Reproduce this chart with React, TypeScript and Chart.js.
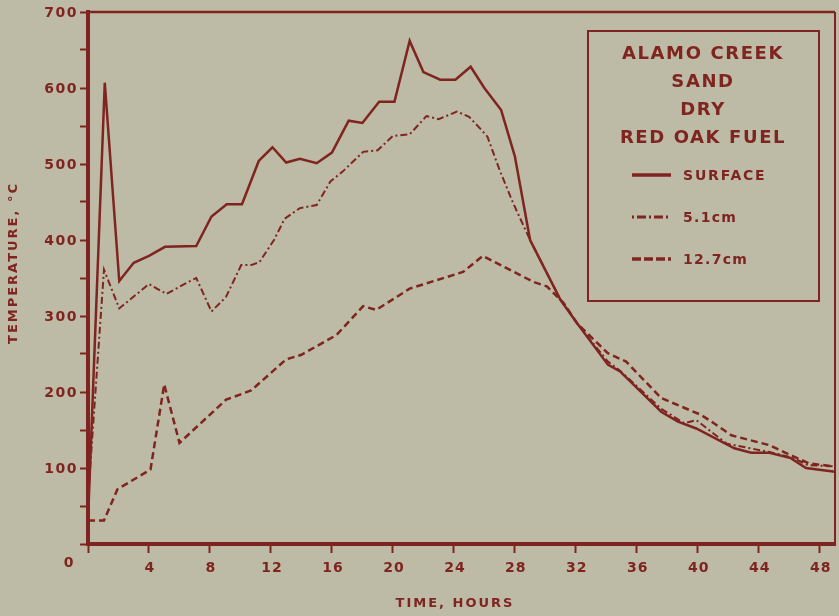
import React, { useEffect, useRef } from "react";
import { Chart, registerables } from "chart.js";

Chart.register(...registerables);

// ---- data (hours, °C) ----
const surfaceHours = [0, 1.1, 2.05, 3.0, 4.0, 5.05, 7.1, 8.1, 9.1, 10.1, 11.2, 12.1, 13.0, 13.9, 15.0, 16.0, 17.1, 18.0, 19.1, 20.1, 21.1, 22.0, 23.1, 24.1, 25.1, 26.0, 27.1, 28.0, 29.0, 31.0, 32.1, 34.1, 34.9, 37.6, 38.7, 39.9, 42.4, 43.5, 44.7, 46.1, 47.1, 49];
const surfaceTemps = [30, 607, 346, 370, 379, 391, 392, 431, 447, 447, 504, 522, 502, 507, 501, 515, 557, 554, 582, 582, 662, 621, 611, 611, 628, 600, 571, 510, 400, 321, 290, 236, 227, 174, 161, 152, 126, 120, 120, 113, 100, 95];

const cm51Hours = [0, 1.05, 2.05, 4.0, 5.15, 6.6, 7.1, 8.1, 9.05, 10.05, 10.7, 11.25, 12.2, 12.9, 13.9, 15.0, 15.9, 16.7, 18.05, 19.0, 20.0, 21.1, 22.2, 23.0, 24.2, 25.0, 25.8, 26.2, 27.0, 27.9, 29.0, 31.0, 32.1, 34.1, 34.9, 37.6, 39.1, 39.9, 41.9, 44.7, 46.3, 47.2, 49];
const cm51Temps = [60, 361, 310, 342, 329, 345, 350, 306, 325, 367, 367, 371, 400, 428, 442, 446, 477, 490, 516, 518, 537, 539, 563, 559, 569, 562, 545, 536, 492, 448, 400, 321, 290, 240, 228, 178, 159, 163, 132, 121, 113, 104, 102];

const cm127Hours = [0, 1.05, 1.93, 4.1, 5.0, 6.0, 9.06, 10.7, 13.0, 14.0, 16.3, 18.05, 18.9, 21.1, 24.6, 25.9, 29.2, 30.1, 31.2, 32.1, 34.1, 35.3, 37.6, 40.2, 40.75, 42.2, 44.7, 46.3, 47.3, 49];
const cm127Temps = [31, 31, 72, 98, 210, 133, 190, 202, 243, 249, 275, 313, 308, 336, 358, 379, 345, 339, 317, 290, 251, 240, 192, 170, 163, 143, 130, 115, 106, 102];

const xTickValues = [0, 4, 8, 12, 16, 20, 24, 28, 32, 36, 40, 44, 48];
const seriesLabels = ["SURFACE", "5.1cm", "12.7cm"];
const legendTitle = ["ALAMO CREEK", "SAND", "DRY", "RED OAK FUEL"];
const xTitle = "TIME, HOURS";
const yTitle = "TEMPERATURE, °C";

const RED = "#7f2420";
const BG = "#bdbba5";
const FONT = "'DejaVu Sans', sans-serif";

const DASH_51 = [7, 3, 2, 3];
const DASH_127 = [7, 4];

function pts(h: number[], t: number[]) {
  return h.map((x, i) => ({ x, y: t[i] }));
}

const decorPlugin = {
  id: "decor",
  beforeDraw(chart: any) {
    const ctx = chart.ctx;
    ctx.save();
    ctx.fillStyle = BG;
    ctx.fillRect(0, 0, chart.width, chart.height);
    ctx.restore();
  },
  afterDraw(chart: any) {
    const ctx = chart.ctx;
    const ca = chart.chartArea;
    const xs = chart.scales.x;
    const ys = chart.scales.y;
    ctx.save();
    ctx.strokeStyle = RED;
    ctx.fillStyle = RED;
    // top and right frame
    ctx.lineWidth = 2.5;
    ctx.beginPath();
    ctx.moveTo(ca.left, ca.top);
    ctx.lineTo(ca.right, ca.top);
    ctx.stroke();
    ctx.lineWidth = 2;
    ctx.beginPath();
    ctx.moveTo(ca.right, ca.top);
    ctx.lineTo(ca.right, ca.bottom);
    ctx.stroke();

    // tick labels
    (ctx as any).letterSpacing = "1.5px";
    ctx.font = `bold 14px ${FONT}`;
    ctx.textBaseline = "middle";
    ctx.textAlign = "right";
    ys.ticks.forEach((t: any) => {
      if (t.value > 0 && t.value % 100 === 0) {
        ctx.fillText(String(t.value), ca.left - 10, ys.getPixelForValue(t.value) + 1);
      }
    });
    ctx.textAlign = "center";
    (ctx as any).letterSpacing = "1px";
    xs.ticks.forEach((t: any) => {
      if (t.value > 0) {
        ctx.fillText(String(t.value), xs.getPixelForValue(t.value) + 1, ca.bottom + 24);
      }
    });
    ctx.fillText("0", ca.left - 19, ca.bottom + 19);

    // axis titles
    ctx.font = `bold 13px ${FONT}`;
    (ctx as any).letterSpacing = "2px";
    ctx.fillText(xTitle, 455, 604);
    ctx.save();
    ctx.translate(14, 263);
    ctx.rotate(-Math.PI / 2);
    ctx.fillText(yTitle, 0, 0);
    ctx.restore();

    // legend box
    const bx = 588, by = 31, bw = 231, bh = 270;
    ctx.lineWidth = 2;
    ctx.strokeRect(bx, by, bw, bh);
    ctx.font = `bold 18px ${FONT}`;
    (ctx as any).letterSpacing = "1.6px";
    ctx.textAlign = "center";
    const cx = 703;
    const ty = [54, 82, 110, 138];
    legendTitle.forEach((s, i) => ctx.fillText(s, cx, ty[i]));

    const rows = [175, 217, 259];
    const widths = [3.5, 3, 3.5];
    ctx.textAlign = "left";
    ctx.font = `bold 14px ${FONT}`;
    rows.forEach((y, i) => {
      ctx.save();
      ctx.lineWidth = widths[i];
      ctx.setLineDash(i === 1 ? [2, 3, 9, 3] : i === 2 ? [9, 3] : []);
      ctx.beginPath();
      ctx.moveTo(632, y);
      ctx.lineTo(671, y);
      ctx.stroke();
      ctx.restore();
      (ctx as any).letterSpacing = i === 0 ? "1.8px" : "1.3px";
      ctx.fillText(seriesLabels[i], 683, y + 1);
    });
    (ctx as any).letterSpacing = "0px";
    ctx.restore();
  },
};

export default function App() {
  const ref = useRef<HTMLCanvasElement | null>(null);
  useEffect(() => {
    if (!ref.current) return;
    const chart = new Chart(ref.current, {
      type: "line",
      data: {
        datasets: [
          {
            label: seriesLabels[0],
            data: pts(surfaceHours, surfaceTemps),
            borderColor: RED,
            borderWidth: 2.5,
            pointRadius: 0,
            tension: 0,
          },
          {
            label: seriesLabels[1],
            data: pts(cm51Hours, cm51Temps),
            borderColor: RED,
            borderWidth: 2,
            borderDash: DASH_51,
            pointRadius: 0,
            tension: 0,
          },
          {
            label: seriesLabels[2],
            data: pts(cm127Hours, cm127Temps),
            borderColor: RED,
            borderWidth: 2.5,
            borderDash: DASH_127,
            pointRadius: 0,
            tension: 0,
          },
        ],
      },
      options: {
        animation: false,
        responsive: false,
        maintainAspectRatio: false,
        layout: { padding: { top: 12, right: 4, left: 0, bottom: 0 } },
        plugins: { legend: { display: false }, tooltip: { enabled: false } },
        scales: {
          x: {
            type: "linear",
            min: 0,
            max: 49,
            ticks: { stepSize: 4, display: false },
            afterBuildTicks: (s: any) => {
              s.ticks = xTickValues.map((v) => ({ value: v }));
            },
            afterFit: (s: any) => {
              s.height = 72;
            },
            grid: { drawOnChartArea: false, drawTicks: true, tickLength: 9, tickColor: RED, tickWidth: 2, color: RED },
            border: { display: true, color: RED, width: 4 },
          },
          y: {
            type: "linear",
            min: 0,
            max: 700,
            ticks: { stepSize: 50, display: false },
            afterFit: (s: any) => {
              s.width = 88;
            },
            grid: { drawOnChartArea: false, drawTicks: true, tickLength: 8, tickColor: RED, tickWidth: 2, color: RED },
            border: { display: true, color: RED, width: 4 },
          },
        },
      },
      plugins: [decorPlugin],
    } as any);
    return () => chart.destroy();
  }, []);
  return (
    <div style={{ position: "absolute", left: 0, top: 0, width: 839, height: 616, background: BG }}>
      <canvas ref={ref} width={839} height={616} style={{ display: "block" }} />
    </div>
  );
}
